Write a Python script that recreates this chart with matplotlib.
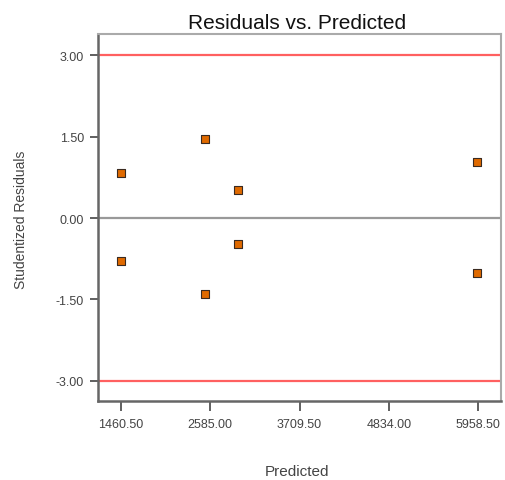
import numpy as np
import matplotlib
matplotlib.use("Agg")
import matplotlib.pyplot as plt

plt.rcParams["font.family"] = ["Liberation Sans", "DejaVu Sans"]

# Data
predicted = [1460.5, 1460.5, 2519.0, 2519.0, 2935.0, 2935.0, 5946.0, 5946.0]
residuals = [0.83, -0.79, 1.45, -1.40, 0.52, -0.48, 1.03, -1.01]
x_ticks = [1460.50, 2585.00, 3709.50, 4834.00, 5958.50]
y_ticks = [-3.00, -1.50, 0.00, 1.50, 3.00]
limit = 3.0

fig = plt.figure(figsize=(5.06, 4.81), dpi=100)
ax = fig.add_axes([98 / 506, 1 - 402 / 481, 403 / 506, 367 / 481])

ax.axhline(limit, color="#ff6060", lw=1.6, zorder=1)
ax.axhline(-limit, color="#ff6060", lw=1.6, zorder=1)
ax.axhline(0, color="#999999", lw=1.6, zorder=1)

ax.scatter(predicted, residuals, marker="s", s=28, facecolor="#e06a00",
           edgecolor="#3a2a20", linewidths=0.8, zorder=3)

ax.set_xlim(1170, 6248)
ax.set_ylim(-3.37, 3.39)
ax.set_xticks(x_ticks)
ax.set_xticklabels([f"{v:.2f}" for v in x_ticks])
ax.set_yticks(y_ticks)
ax.set_yticklabels([f"{v:.2f}" for v in y_ticks])
ax.tick_params(labelsize=9, colors="#444444", width=1.2)
ax.tick_params(axis="x", length=7, pad=5)
ax.tick_params(axis="y", length=6, pad=4)

for side in ["top", "right"]:
    ax.spines[side].set_color("#aaaaaa")
    ax.spines[side].set_linewidth(1.5)
for side in ["left", "bottom"]:
    ax.spines[side].set_color("#666666")
    ax.spines[side].set_linewidth(1.8)

fig.text(297 / 506, 1 - 29 / 481, "Residuals vs. Predicted", ha="center",
         va="baseline", fontsize=15, color="#111111")
fig.text(21 / 506, 1 - 220 / 481, "Studentized Residuals", rotation=90,
         ha="center", va="center", fontsize=10, color="#444444")
fig.text(297 / 506, 1 - 476 / 481, "Predicted", ha="center", va="baseline",
         fontsize=11, color="#444444")

fig.savefig("out.png", dpi=100)
